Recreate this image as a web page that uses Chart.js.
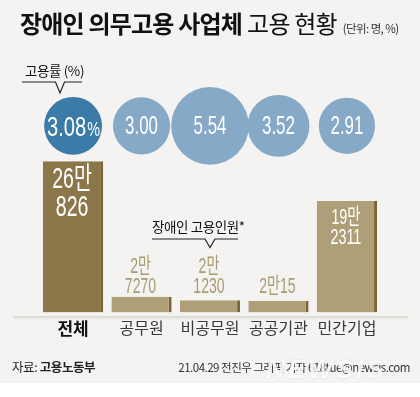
<!DOCTYPE html>
<html>
<head>
<meta charset="utf-8">
<title>장애인 의무고용 사업체 고용 현황</title>
<script src="https://cdn.jsdelivr.net/npm/chart.js"></script>
<style>
  html, body { margin: 0; padding: 0; }
  body { width: 420px; height: 397px; background: #f4f3f1; position: relative; overflow: hidden;
         font-family: "Noto Sans CJK KR", "Noto Sans", sans-serif; color: #222; }
  #chart { position: absolute; left: 0; top: 0; }
  .abs { position: absolute; white-space: nowrap; line-height: 1; }
  #title { left: 20px; top: 11px; font-size: 24px; letter-spacing: -0.8px; color: #111; }
  #title b { font-weight: 700; }
  #title .reg { font-weight: 400; margin-left: 5px; }
  #title small { font-size: 11.5px; letter-spacing: -0.6px; margin-left: 6px; color: #333; }
  .note { font-size: 13.5px; color: #111; letter-spacing: -0.4px; }
  #foot-white { position: absolute; left: 0; top: 383px; width: 420px; height: 14px; background: #fff; }
  #base { position: absolute; left: 14px; top: 316px; width: 394px; height: 4px;
          background: linear-gradient(#d8d6d2, rgba(244,243,241,0)); }
  #src { left: 12px; top: 361px; font-size: 12.5px; color: #222; letter-spacing: -0.4px; }
  #src b { font-weight: 700; }
  #credit { right: 10px; top: 362px; font-size: 11.5px; color: #333; letter-spacing: -0.5px; }
  #mark { left: 266px; top: 354px; font: italic bold 26px "Liberation Sans", sans-serif; letter-spacing: 3px;
          color: rgba(255,255,255,0.85); text-shadow: 0 0 2px rgba(0,0,0,0.12); }
</style>
</head>
<body>
<canvas id="chart" width="420" height="397"></canvas>
<div id="base"></div>
<div id="foot-white"></div>

<div id="title" class="abs"><b>장애인 의무고용 사업체</b><span class="reg">고용 현황</span><small>(단위: 명, %)</small></div>

<div class="abs note" style="left:25px; top:64px;">고용률 (%)</div>
<div class="abs note" style="left:152px; top:220px;">장애인 고용인원*</div>
<svg class="abs" width="420" height="397" style="left:0; top:0; pointer-events:none;">
  <polyline points="22,82 55.5,82 60,93 64.5,82 82,82" fill="none" stroke="#222" stroke-width="1.2"/>
  <polyline points="152,239 205,239 210,247.5 215,239 238,239" fill="none" stroke="#222" stroke-width="1.2"/>
</svg>

<div id="src" class="abs">자료: <b>고용노동부</b></div>
<div id="credit" class="abs">21.04.29 전진우 그래픽 기자 618tue@newsis.com</div>
<div id="mark" class="abs">NEWSIS</div>

<script>
// 장애인 의무고용 사업체 고용 현황 (2020)
const categories = ['전체', '공무원', '비공무원', '공공기관', '민간기업'];
const employed = [260826, 27270, 21230, 20015, 192311];   // 장애인 고용인원 (명)
const rates = [3.08, 3.00, 5.54, 3.52, 2.91];              // 고용률 (%)

// styles
const BAR_MAIN = '#8c774b', BAR = '#ae9f78', BAR_EDGE = '#7b6436';
const BUB_MAIN = '#3b7ba7', BUB = '#85a9c6';
const LABEL_TAN = '#a99b72';
const NUM_FONT = '"Liberation Sans", "Noto Sans CJK KR", sans-serif';
const BUBBLE_ROW = 0.685;   // height of the bubble row on the hidden y2 axis
const R_PER_SQRT = 16.5;    // bubble radius = k * sqrt(rate), area follows the rate

function manLines(v) {
  const man = Math.floor(v / 10000), rest = String(v % 10000);
  if (rest.length <= 2) return [man + '만' + rest];
  return [man + '만', rest];
}

function condensed(ctx, str, x, y, size, sx, color, baseline) {
  ctx.save();
  ctx.translate(x, y);
  ctx.scale(sx, 1);
  ctx.font = size + 'px ' + NUM_FONT;
  ctx.fillStyle = color;
  ctx.textAlign = 'center';
  ctx.textBaseline = baseline || 'middle';
  ctx.fillText(str, 0, 0);
  ctx.restore();
}

const labelPlugin = {
  id: 'labels',
  afterDatasetsDraw(chart) {
    const ctx = chart.ctx;
    const bars = chart.getDatasetMeta(0).data;
    const bubbles = chart.getDatasetMeta(1).data;
    const inside = employed.map(v => chart.scales.y.getPixelForValue(v) < chart.scales.y.getPixelForValue(0) - 60);

    // common line for the small bars' labels
    let outsideTop = Infinity;
    bars.forEach((b, i) => { if (!inside[i]) outsideTop = Math.min(outsideTop, b.y); });
    const outLast = outsideTop - 10;

    bars.forEach((b, i) => {
      const lines = manLines(employed[i]);
      if (inside[i]) {
        const big = i === 0;
        const size = big ? 30 : 22, gap = big ? 28 : 20, first = b.y + (big ? 18 : 17);
        lines.forEach((t, k) => condensed(ctx, t, b.x - 1, first + k * gap, size, 0.65, '#fff'));
      } else {
        lines.forEach((t, k) => condensed(ctx, t, b.x - 1, outLast - (lines.length - 1 - k) * 20, 22, 0.64, LABEL_TAN));
      }
    });

    bubbles.forEach((p, i) => {
      if (i === 0) {
        const main = rates[i].toFixed(2), sx = 0.72;
        ctx.save();
        ctx.font = '28px ' + NUM_FONT;
        const w1 = ctx.measureText(main).width * sx;
        ctx.font = '20px ' + NUM_FONT;
        const w2 = ctx.measureText('%').width * sx;
        ctx.restore();
        const left = p.x - (w1 + w2) / 2;
        condensed(ctx, main, left + w1 / 2, p.y + 10, 28, sx, '#fff', 'alphabetic');
        condensed(ctx, '%', left + w1 + w2 / 2 + 1, p.y + 10, 20, sx, '#fff', 'alphabetic');
      } else {
        condensed(ctx, rates[i].toFixed(2), p.x, p.y + 1, 26, 0.65, '#fff');
      }
    });
  }
};

new Chart(document.getElementById('chart').getContext('2d'), {
  data: {
    labels: categories,
    datasets: [
      {
        type: 'bar',
        data: employed,
        yAxisID: 'y',
        backgroundColor: employed.map((v, i) => i === 0 ? BAR_MAIN : BAR),
        borderColor: BAR_EDGE,
        borderWidth: { top: 0, right: 3, bottom: 0, left: 0 },
        borderSkipped: false,
        barPercentage: 0.88,
        categoryPercentage: 1
      },
      {
        type: 'bubble',
        data: rates.map((r, i) => ({ x: categories[i], y: BUBBLE_ROW, r: R_PER_SQRT * Math.sqrt(r) })),
        yAxisID: 'y2',
        backgroundColor: rates.map((r, i) => i === 0 ? BUB_MAIN : BUB),
        borderWidth: 0,
        clip: false
      }
    ]
  },
  options: {
    responsive: false,
    animation: false,
    events: [],
    layout: { padding: { left: 18, right: 14, top: 40, bottom: 52 } },
    plugins: { legend: { display: false }, tooltip: { enabled: false }, title: { display: false } },
    scales: {
      x: {
        type: 'category',
        offset: true,
        grid: { display: false, drawTicks: false },
        border: { display: false },
        ticks: {
          padding: 6,
          autoSkip: false,
          maxRotation: 0,
          color: ctx => ctx.index === 0 ? '#111' : '#3a3a3a',
          font: ctx => ctx.index === 0
            ? { family: '"Noto Sans CJK KR", sans-serif', size: 17, weight: 'bold' }
            : { family: '"Noto Sans CJK KR", sans-serif', size: 16, weight: 'normal' }
        }
      },
      y: { display: false, min: 0, max: 470000 },
      y2: { display: false, min: 0, max: 1 }
    }
  },
  plugins: [labelPlugin]
});
</script>
</body>
</html>
